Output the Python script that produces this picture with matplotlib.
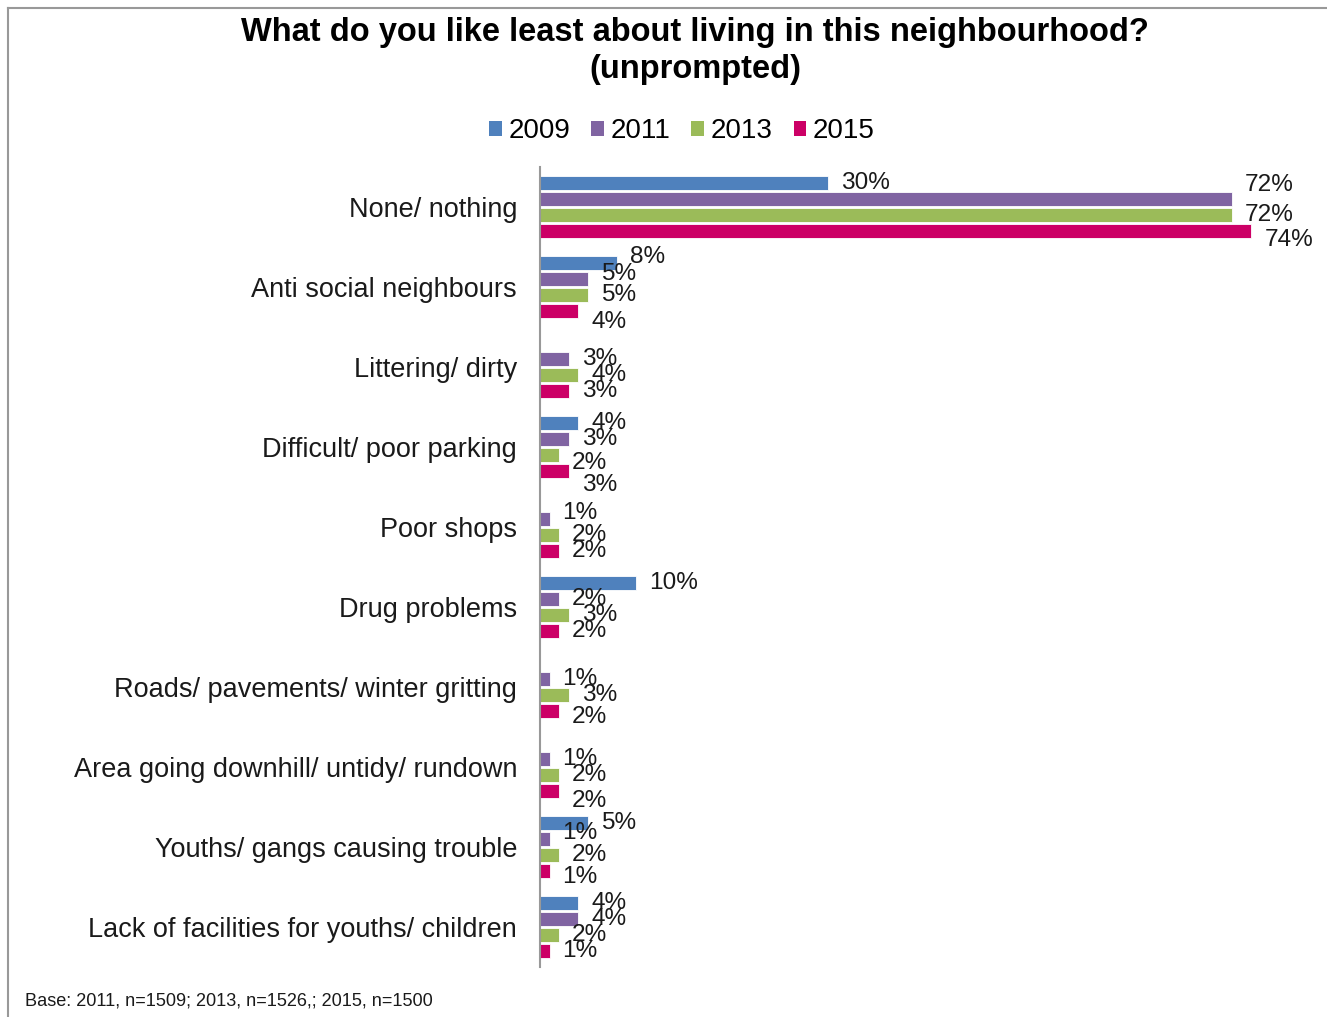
import matplotlib.pyplot as plt
import numpy as np
from matplotlib.patches import Patch
from matplotlib.lines import Line2D

plt.rcParams['font.family'] = ['Liberation Sans', 'DejaVu Sans']

categories = ["None/ nothing", "Anti social neighbours", "Littering/ dirty",
              "Difficult/ poor parking", "Poor shops", "Drug problems",
              "Roads/ pavements/ winter gritting",
              "Area going downhill/ untidy/ rundown",
              "Youths/ gangs causing trouble",
              "Lack of facilities for youths/ children"]
years = ["2009", "2011", "2013", "2015"]
nan = np.nan
v2009 = [30, 8, nan, 4, nan, 10, nan, nan, 5, 4]
v2011 = [72, 5, 3, 3, 1, 2, 1, 1, 1, 4]
v2013 = [72, 5, 4, 2, 2, 3, 3, 2, 2, 2]
v2015 = [74, 4, 3, 3, 2, 2, 2, 2, 1, 1]
series = [v2009, v2011, v2013, v2015]
colors = ["#4F81BD", "#8064A2", "#9BBB59", "#CC0066"]

# vertical nudges (pixels, downward) for labels that would pile up
nudge = {(0, 1): -14, (0, 3): 9, (1, 0): -6, (1, 1): -5, (1, 3): 11,
         (3, 2): 8, (3, 3): 14, (4, 1): -6, (6, 3): 6, (7, 3): 10,
         (8, 1): -6, (8, 3): 6}

W, H = 1327, 1017
fig = plt.figure(figsize=(W / 100, H / 100), dpi=100)
ax = fig.add_axes([540 / W, 1 - 967 / H, (1309 - 540) / W, 800 / H])

y = np.arange(len(categories))
step = 0.2
for j, vals in enumerate(series):
    vals = np.array(vals, dtype=float)
    pos = y - 1.5 * step + j * step
    ok = ~np.isnan(vals)
    ax.barh(pos[ok], vals[ok], height=0.175, color=colors[j],
            edgecolor="white", linewidth=0.6)
    for i in np.where(ok)[0]:
        dy = nudge.get((i, j), 0)
        ax.annotate(f"{vals[i]:.0f}%", (vals[i], pos[i]),
                    xytext=(13, -dy), textcoords="offset pixels",
                    ha="left", va="center", fontsize=17.6, color="#1a1a1a")

ax.set_xlim(0, 80)
ax.set_ylim(len(categories) - 0.5, -0.5)
ax.set_xticks([])
ax.set_yticks(y)
ax.set_yticklabels(categories, fontsize=19.5, color="#1a1a1a")
ax.tick_params(axis="y", length=0, pad=16.5)
for s in ["top", "right", "bottom"]:
    ax.spines[s].set_visible(False)
ax.spines["left"].set_color("#999999")
ax.spines["left"].set_linewidth(1.5)

fig.text(695 / W, 1 - 51 / H,
         "What do you like least about living in this neighbourhood?\n(unprompted)",
         ha="center", va="center", fontsize=23.5, fontweight="bold",
         linespacing=1.27)

handles = [Patch(facecolor=c, edgecolor="none") for c in colors]
fig.legend(handles, years, loc="center", bbox_to_anchor=(682 / W, 1 - 131 / H),
           ncol=4, frameon=False, fontsize=20, handlelength=0.45,
           handleheight=0.45, handletextpad=0.25, columnspacing=0.75)

fig.text(25 / W, 1 - 1001 / H, "Base: 2011, n=1509; 2013, n=1526,; 2015, n=1500",
         ha="left", va="center", fontsize=13.1, color="#1a1a1a")

# page frame lines
fig.add_artist(Line2D([8 / W, 1], [1 - 8 / H, 1 - 8 / H], color="#999999", lw=1.5))
fig.add_artist(Line2D([8 / W, 8 / W], [0, 1 - 8 / H], color="#999999", lw=1.5))

fig.savefig("out.png", dpi=100)
